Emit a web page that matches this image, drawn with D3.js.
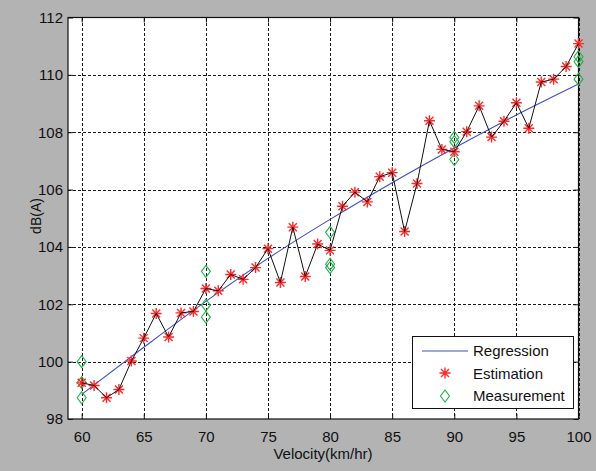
<!DOCTYPE html>
<html>
<head>
<meta charset="utf-8">
<script src="https://d3js.org/d3.v7.min.js"></script>
<style>
  html, body { margin: 0; padding: 0; background: #b3b3b3; }
  svg { display: block; }
  text { font-family: "Liberation Sans", Arial, sans-serif; }
</style>
</head>
<body>
<svg id="chart" width="596" height="471"></svg>
<script>
// Estimated noise level per velocity (km/hr -> dB(A))
const estVelocity = d3.range(60, 101);
const estDb = [
  99.26, 99.17, 98.74, 99.03, 100.02, 100.82, 101.68, 100.86, 101.70, 101.75,
  102.55, 102.47, 103.04, 102.87, 103.28, 103.94, 102.76, 104.69, 102.97, 104.10,
  103.88, 105.42, 105.91, 105.57, 106.45, 106.59, 104.54, 106.21, 108.40, 107.40,
  107.32, 108.02, 108.92, 107.83, 108.38, 109.03, 108.14, 109.75, 109.85, 110.29,
  111.09
];

// Field measurements
const measVelocity = [60, 60, 60, 70, 70, 70, 80, 80, 80, 90, 90, 90, 100, 100, 100];
const measDb = [100.0, 99.27, 98.74, 103.15, 101.97, 101.55, 104.51, 103.40, 103.28,
                107.82, 107.67, 107.05, 110.63, 110.46, 109.85];

// Regression curve, sampled every 5 km/hr
const regVelocity = [60, 65, 70, 75, 80, 85, 90, 95, 100];
const regDb = [98.86, 100.5, 102.1, 103.6, 104.96, 106.24, 107.45, 108.6, 109.68];

const xTicks = [60, 65, 70, 75, 80, 85, 90, 95, 100];
const yTicks = [98, 100, 102, 104, 106, 108, 110, 112];

const svg = d3.select("#chart");
const plotLeft = 68, plotRight = 578.5, plotTop = 17.5, plotBottom = 419;

const x = d3.scaleLinear().domain([58.9, 100]).range([plotLeft, plotRight]);
const y = d3.scaleLinear().domain([98, 112]).range([plotBottom, plotTop]);

// plot background
svg.append("rect")
  .attr("x", plotLeft).attr("y", plotTop)
  .attr("width", plotRight - plotLeft).attr("height", plotBottom - plotTop)
  .attr("fill", "#ffffff");

// dotted grid
const grid = svg.append("g").attr("stroke", "#1a1a1a").attr("stroke-width", 1.1)
  .attr("stroke-dasharray", "3,2").attr("shape-rendering", "crispEdges");
grid.selectAll("line.gx").data(xTicks).join("line")
  .attr("class", "gx")
  .attr("x1", d => Math.round(x(d)) + 0.5).attr("x2", d => Math.round(x(d)) + 0.5)
  .attr("y1", plotTop).attr("y2", plotBottom);
grid.selectAll("line.gy").data(yTicks.slice(1, -1)).join("line")
  .attr("class", "gy")
  .attr("y1", d => Math.round(y(d)) + 0.5).attr("y2", d => Math.round(y(d)) + 0.5)
  .attr("x1", plotLeft).attr("x2", plotRight);

// axes with inward ticks on all four sides
const fmt = d3.format("d");
const axB = svg.append("g").attr("transform", `translate(0,${plotBottom})`)
  .call(d3.axisBottom(x).tickValues(xTicks).tickSize(-5).tickPadding(12).tickFormat(fmt));
const axT = svg.append("g").attr("transform", `translate(0,${plotTop})`)
  .call(d3.axisTop(x).tickValues(xTicks).tickSize(-5).tickFormat(""));
const axL = svg.append("g").attr("transform", `translate(${plotLeft},0)`)
  .call(d3.axisLeft(y).tickValues(yTicks).tickSize(-5).tickPadding(5).tickFormat(fmt));
const axR = svg.append("g").attr("transform", `translate(${plotRight},0)`)
  .call(d3.axisRight(y).tickValues(yTicks).tickSize(-5).tickFormat(""));
[axB, axT, axL, axR].forEach(g => {
  g.select(".domain").remove();
  g.selectAll("line").attr("stroke", "#111");
  g.selectAll("text").attr("fill", "#111").attr("font-size", 15)
    .attr("font-family", "'Liberation Sans', Arial, sans-serif");
});

svg.append("rect")
  .attr("x", plotLeft).attr("y", plotTop)
  .attr("width", plotRight - plotLeft).attr("height", plotBottom - plotTop)
  .attr("fill", "none").attr("stroke", "#111").attr("stroke-width", 1.2);

// axis titles
svg.append("text").attr("x", 323).attr("y", 459)
  .attr("text-anchor", "middle").attr("font-size", 15).attr("fill", "#111")
  .text("Velocity(km/hr)");
svg.append("text").attr("transform", "translate(41,216) rotate(-90)")
  .attr("text-anchor", "middle").attr("font-size", 14).attr("fill", "#111")
  .text("dB(A)");

const plot = svg.append("g");

// regression curve
const regLine = d3.line().x((d, i) => x(regVelocity[i])).y(d => y(d)).curve(d3.curveMonotoneX);
plot.append("path").datum(regDb).attr("d", regLine)
  .attr("fill", "none").attr("stroke", "#3d4fc4").attr("stroke-width", 1.1);

// marker shapes
const diamondPath = "M0,-6 L4.5,0 L0,6 L-4.5,0 Z";
const starPath = "M-5.5,0 L5.5,0 M0,-5.5 L0,5.5 M-4,-4 L4,4 M-4,4 L4,-4";

// measurement diamonds
plot.selectAll("path.meas").data(measDb).join("path")
  .attr("class", "meas")
  .attr("transform", (d, i) => `translate(${x(measVelocity[i])},${y(d)})`)
  .attr("d", diamondPath)
  .attr("fill", "none").attr("stroke", "#22b14c").attr("stroke-width", 1.1);

// estimation stars and connecting line
plot.selectAll("path.est").data(estDb).join("path")
  .attr("class", "est")
  .attr("transform", (d, i) => `translate(${x(estVelocity[i])},${y(d)})`)
  .attr("d", starPath)
  .attr("fill", "none").attr("stroke", "#ff2a2a").attr("stroke-width", 1.4);

const estLine = d3.line().x((d, i) => x(estVelocity[i])).y(d => y(d));
plot.append("path").datum(estDb).attr("d", estLine)
  .attr("fill", "none").attr("stroke", "#111").attr("stroke-width", 1);

// legend
const lg = svg.append("g");
lg.append("rect").attr("x", 412.5).attr("y", 336.5).attr("width", 161).attr("height", 72)
  .attr("fill", "#fff").attr("stroke", "#111").attr("stroke-width", 1);
lg.append("line").attr("x1", 422).attr("x2", 468).attr("y1", 351).attr("y2", 351)
  .attr("stroke", "#3d4fc4").attr("stroke-width", 1.1);
lg.append("path").attr("transform", "translate(445,373)").attr("d", starPath)
  .attr("fill", "none").attr("stroke", "#ff2a2a").attr("stroke-width", 1.4);
lg.append("path").attr("transform", "translate(445,396)").attr("d", diamondPath)
  .attr("fill", "none").attr("stroke", "#22b14c").attr("stroke-width", 1.1);
const legendLabels = ["Regression", "Estimation", "Measurement"];
lg.selectAll("text.lbl").data(legendLabels).join("text")
  .attr("class", "lbl")
  .attr("x", 473).attr("y", (d, i) => 356 + i * 22.5)
  .attr("font-size", 15).attr("fill", "#111").text(d => d);
</script>
</body>
</html>
